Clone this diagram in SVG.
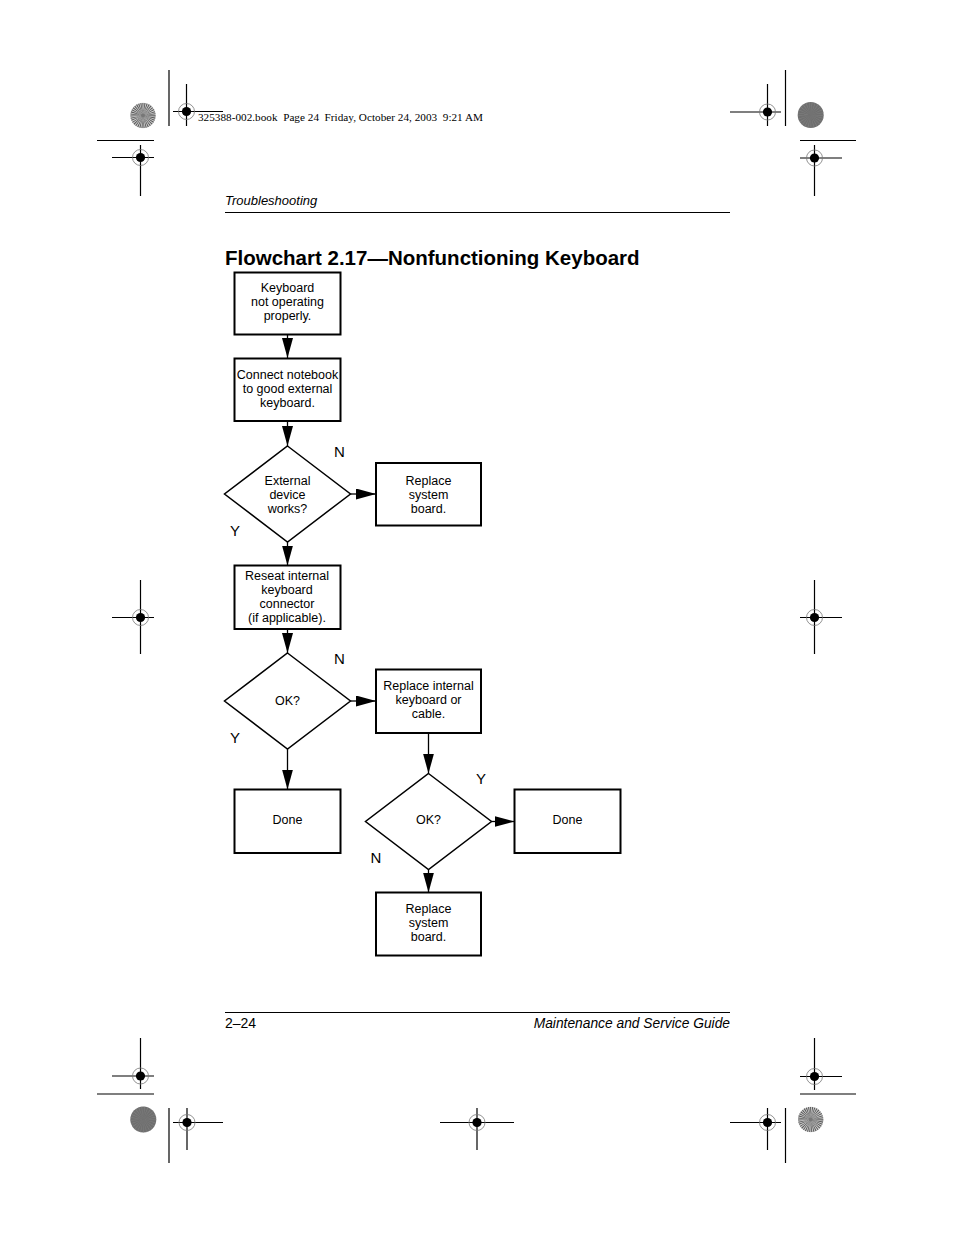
<svg xmlns="http://www.w3.org/2000/svg" xmlns:xlink="http://www.w3.org/1999/xlink" width="954" height="1235" viewBox="0 0 954 1235">
<style>
.box{fill:#fff;stroke:#000;stroke-width:2}
.dia{fill:#fff;stroke:#000;stroke-width:1.5}
.t{font-family:"Liberation Sans",Arial,sans-serif;font-size:12.5px;text-anchor:middle;fill:#000}
.lbl{font-family:"Liberation Sans",Arial,sans-serif;font-size:15px;text-anchor:middle;fill:#000}
.conn{stroke:#000;stroke-width:1.3;fill:none;marker-end:url(#arr)}
.crop{stroke:#000;stroke-width:1.2;fill:none}
.hdr{font-family:"Liberation Serif","Times New Roman",serif;font-size:11.2px;fill:#000}
.run{font-family:"Liberation Sans",Arial,sans-serif;font-style:italic;fill:#000}
</style>
<defs>
<marker id="arr" markerUnits="userSpaceOnUse" markerWidth="20" markerHeight="11" refX="20" refY="5.5" orient="auto">
<path d="M0,0 L20,5.5 L0,11 Z" fill="#000"/>
</marker>
<g id="reg">
<circle r="8" fill="none" stroke="#777" stroke-width="0.8"/>
<circle r="4.6" fill="#000"/>
</g>
<g id="starLight">
<circle r="12.7" fill="#d0d0d0"/>
<circle r="6.3" fill="none" stroke="#555" stroke-width="12.6" stroke-dasharray="0.55 0.55"/>
<circle r="2" fill="#777"/>
</g>
<g id="starDark">
<circle r="13" fill="#6f6f6f"/>
<circle r="6.5" fill="none" stroke="#8a8a8a" stroke-width="13" stroke-dasharray="0.4 1.2" opacity="0.6"/>
</g>
</defs>
<rect width="954" height="1235" fill="#fff"/>

<g id="printer-marks">
<use xlink:href="#starLight" x="143" y="115.5"/>
<line class="crop" x1="169" y1="70" x2="169" y2="126"/>
<line class="crop" x1="173" y1="111.5" x2="223" y2="111.5"/>
<line class="crop" x1="186.5" y1="84" x2="186.5" y2="126"/>
<use xlink:href="#reg" x="186.5" y="111.5"/>
<line class="crop" x1="97" y1="140.5" x2="154" y2="140.5"/>
<line class="crop" x1="112" y1="157.5" x2="154" y2="157.5"/>
<line class="crop" x1="140.5" y1="145" x2="140.5" y2="196"/>
<use xlink:href="#reg" x="140.5" y="157.5"/>

<use xlink:href="#starDark" x="810.7" y="115"/>
<line class="crop" x1="785.5" y1="70" x2="785.5" y2="126"/>
<line class="crop" x1="730" y1="112" x2="781" y2="112"/>
<line class="crop" x1="767.5" y1="84" x2="767.5" y2="126"/>
<use xlink:href="#reg" x="767.5" y="112"/>
<line class="crop" x1="800" y1="140.5" x2="856" y2="140.5"/>
<line class="crop" x1="800" y1="158" x2="842" y2="158"/>
<line class="crop" x1="814.5" y1="145" x2="814.5" y2="196"/>
<use xlink:href="#reg" x="814.5" y="158"/>

<line class="crop" x1="112" y1="617.5" x2="154" y2="617.5"/>
<line class="crop" x1="140.5" y1="580" x2="140.5" y2="654"/>
<use xlink:href="#reg" x="140.5" y="617.5"/>
<line class="crop" x1="800" y1="617.5" x2="842" y2="617.5"/>
<line class="crop" x1="814.5" y1="580" x2="814.5" y2="654"/>
<use xlink:href="#reg" x="814.5" y="617.5"/>

<line class="crop" x1="112" y1="1076" x2="154" y2="1076"/>
<line class="crop" x1="140.5" y1="1038" x2="140.5" y2="1089"/>
<use xlink:href="#reg" x="140.5" y="1076"/>
<line class="crop" x1="97" y1="1094" x2="154" y2="1094"/>
<use xlink:href="#starDark" x="143.3" y="1119.5"/>
<line class="crop" x1="169" y1="1108" x2="169" y2="1163"/>
<line class="crop" x1="173" y1="1122.5" x2="223" y2="1122.5"/>
<line class="crop" x1="187" y1="1108" x2="187" y2="1150"/>
<use xlink:href="#reg" x="187" y="1122.5"/>

<line class="crop" x1="440" y1="1122.5" x2="514" y2="1122.5"/>
<line class="crop" x1="477" y1="1108" x2="477" y2="1150"/>
<use xlink:href="#reg" x="477" y="1122.5"/>

<line class="crop" x1="800" y1="1076.5" x2="842" y2="1076.5"/>
<line class="crop" x1="814.5" y1="1038" x2="814.5" y2="1090"/>
<use xlink:href="#reg" x="814.5" y="1076.5"/>
<line class="crop" x1="800" y1="1094" x2="856" y2="1094"/>
<use xlink:href="#starLight" x="810.7" y="1119.5"/>
<line class="crop" x1="785.5" y1="1108" x2="785.5" y2="1163"/>
<line class="crop" x1="730" y1="1122.5" x2="781" y2="1122.5"/>
<line class="crop" x1="767.5" y1="1108" x2="767.5" y2="1150"/>
<use xlink:href="#reg" x="767.5" y="1122.5"/>
</g>

<g id="page-header">
<text class="hdr" x="198" y="121" xml:space="preserve" textLength="285" lengthAdjust="spacing">325388-002.book  Page 24  Friday, October 24, 2003  9:21 AM</text>
<text class="run" x="225" y="205" font-size="13">Troubleshooting</text>
<line x1="225" y1="212.5" x2="730" y2="212.5" stroke="#000" stroke-width="1"/>
<text x="225" y="265" font-family="'Liberation Sans',Arial,sans-serif" font-weight="bold" font-size="20.5" fill="#000">Flowchart 2.17—Nonfunctioning Keyboard</text>
</g>

<g id="page-footer">
<line x1="225" y1="1012.5" x2="730" y2="1012.5" stroke="#000" stroke-width="1"/>
<text x="225" y="1028" font-family="'Liberation Sans',Arial,sans-serif" font-size="14" fill="#000">2–24</text>
<text class="run" x="730" y="1028" font-size="13.8" text-anchor="end">Maintenance and Service Guide</text>
</g>

<g id="connectors">
<path class="conn" d="M287.5,334.5 V358"/>
<path class="conn" d="M287.5,421 V446"/>
<path class="conn" d="M350.5,494 H376"/>
<path class="conn" d="M287.5,542 V565.5"/>
<path class="conn" d="M287.5,629 V653"/>
<path class="conn" d="M350.5,701 H376"/>
<path class="conn" d="M287.5,749 V789.5"/>
<path class="conn" d="M428.5,733 V773.5"/>
<path class="conn" d="M491.5,821.5 H514.5"/>
<path class="conn" d="M428.5,869.5 V892.5"/>
<text class="lbl" x="339.5" y="457">N</text>
<text class="lbl" x="235" y="536">Y</text>
<text class="lbl" x="339.5" y="664">N</text>
<text class="lbl" x="235" y="743">Y</text>
<text class="lbl" x="481" y="784">Y</text>
<text class="lbl" x="376" y="863">N</text>
</g>

<g id="n1">
<rect class="box" x="234.5" y="272.5" width="106" height="62"/>
<text class="t" x="287.5" y="291.5">Keyboard</text>
<text class="t" x="287.5" y="305.5">not operating</text>
<text class="t" x="287.5" y="319.5">properly.</text>
</g>
<g id="n2">
<rect class="box" x="234.5" y="358.5" width="106" height="62.5"/>
<text class="t" x="287.5" y="378.5">Connect notebook</text>
<text class="t" x="287.5" y="392.5">to good external</text>
<text class="t" x="287.5" y="406.5">keyboard.</text>
</g>
<g id="d1">
<polygon class="dia" points="287.5,446 350.5,494 287.5,542 224.5,494"/>
<text class="t" x="287.5" y="484.5">External</text>
<text class="t" x="287.5" y="498.5">device</text>
<text class="t" x="287.5" y="512.5">works?</text>
</g>
<g id="n3">
<rect class="box" x="376" y="463" width="105" height="62.5"/>
<text class="t" x="428.5" y="484.5">Replace</text>
<text class="t" x="428.5" y="498.5">system</text>
<text class="t" x="428.5" y="512.5">board.</text>
</g>
<g id="n4">
<rect class="box" x="234.5" y="565.5" width="106" height="63.5"/>
<text class="t" x="287" y="579.5">Reseat internal</text>
<text class="t" x="287" y="593.5">keyboard</text>
<text class="t" x="287" y="607.5">connector</text>
<text class="t" x="287" y="621.5">(if applicable).</text>
</g>
<g id="d2">
<polygon class="dia" points="287.5,653 350.5,701 287.5,749 224.5,701"/>
<text class="t" x="287.5" y="705">OK?</text>
</g>
<g id="n5">
<rect class="box" x="376" y="669.5" width="105" height="63.5"/>
<text class="t" x="428.5" y="690">Replace internal</text>
<text class="t" x="428.5" y="704">keyboard or</text>
<text class="t" x="428.5" y="718">cable.</text>
</g>
<g id="n6">
<rect class="box" x="234.5" y="789.5" width="106" height="63.5"/>
<text class="t" x="287.5" y="823.5">Done</text>
</g>
<g id="d3">
<polygon class="dia" points="428.5,773.5 491.5,821.5 428.5,869.5 365.5,821.5"/>
<text class="t" x="428.5" y="823.5">OK?</text>
</g>
<g id="n7">
<rect class="box" x="514.5" y="789.5" width="106" height="63.5"/>
<text class="t" x="567.5" y="823.5">Done</text>
</g>
<g id="n8">
<rect class="box" x="376" y="892.5" width="105" height="63"/>
<text class="t" x="428.5" y="913">Replace</text>
<text class="t" x="428.5" y="927">system</text>
<text class="t" x="428.5" y="941">board.</text>
</g>
</svg>
